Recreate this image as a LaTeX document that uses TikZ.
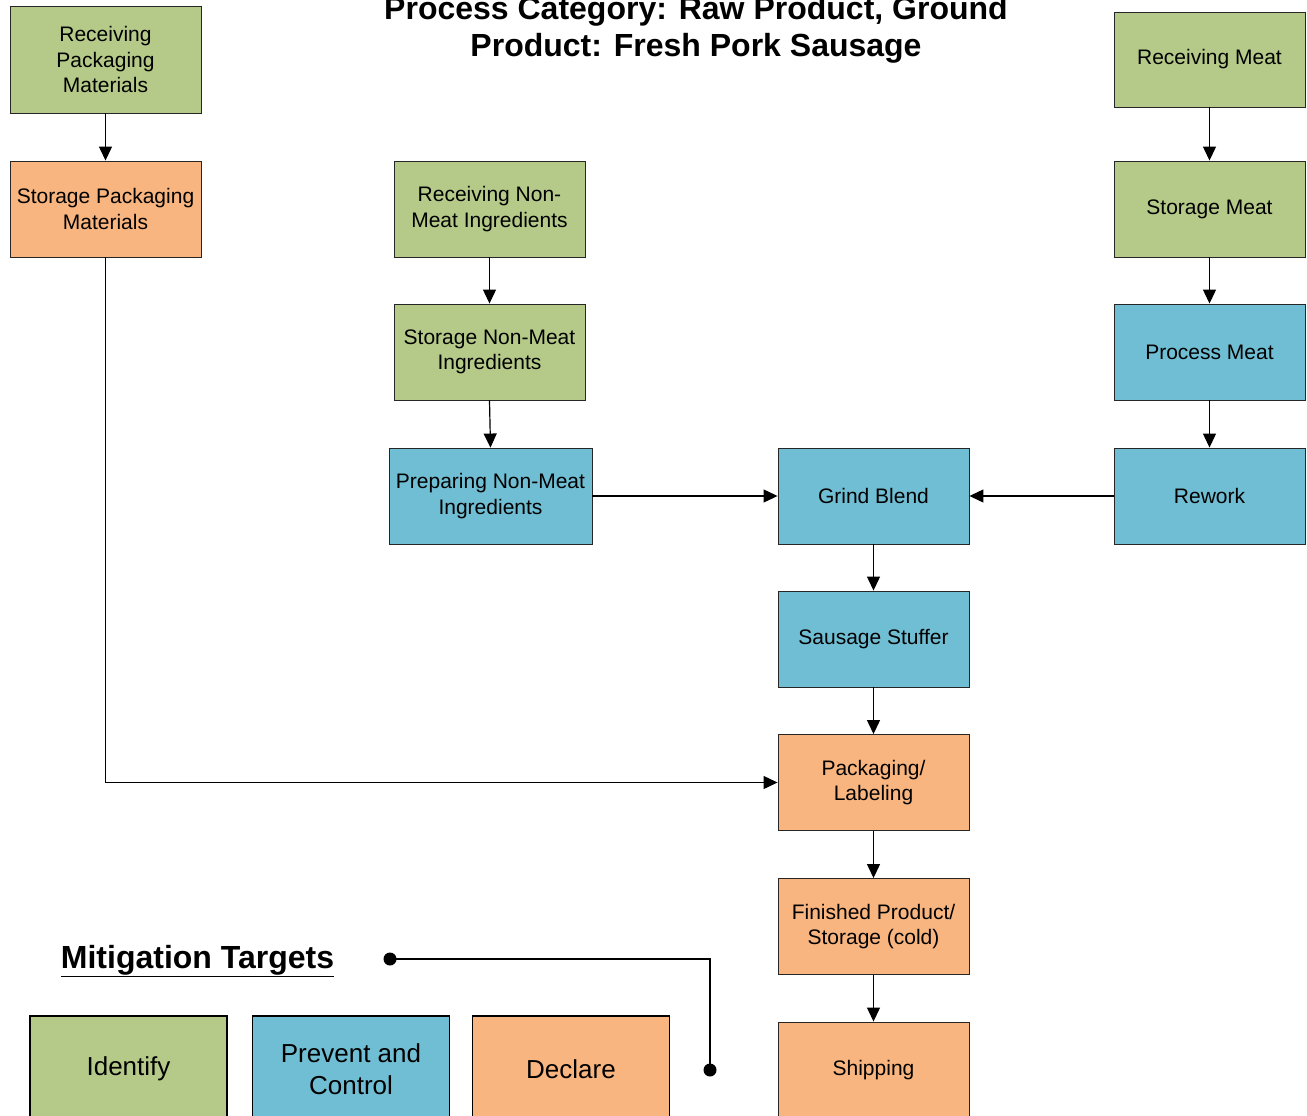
\documentclass[tikz,border=0pt]{standalone}
\usepackage{fontspec}
\setmainfont{Liberation Sans}
\usetikzlibrary{arrows.meta}

\definecolor{idgreen}{HTML}{B5CA88}
\definecolor{pcblue}{HTML}{70BED3}
\definecolor{decorange}{HTML}{F8B57F}

\begin{document}
\begin{tikzpicture}[x=1pt,y=-1pt,
  box/.style={draw=black!85,line width=0.9pt,minimum width=191pt,minimum height=96pt,
    inner sep=2pt,align=center,font=\fontsize{21}{25.5}\selectfont},
  legbox/.style={draw=black,line width=1.6pt,minimum width=197pt,minimum height=106pt,
    inner sep=2pt,align=center,font=\fontsize{26}{32}\selectfont},
  flow/.style={draw=black,line width=1.2pt,-{Triangle[length=14pt,width=13pt]}}]
\useasboundingbox (0,0) rectangle (1307,1116);

    % title
    \node[align=center,font=\fontsize{32}{37}\selectfont\bfseries] (title) at (696,29.5)
      {Process Category: Raw Product, Ground\\Product: Fresh Pork Sausage};

    % packaging column
    \node[box,fill=idgreen,minimum height=107pt] (rpm) at (105.5,59.5) {Receiving\\Packaging\\Materials};
    \node[box,fill=decorange] (spm) at (105.5,209) {Storage Packaging\\Materials};

    % non-meat column
    \node[box,fill=idgreen] (rnm) at (489.5,209) {Receiving Non-\\Meat Ingredients};
    \node[box,fill=idgreen] (snm) at (489.5,352) {Storage Non-Meat\\Ingredients};
    \node[box,fill=pcblue,minimum width=203pt] (pnm) at (490.5,496) {Preparing Non-Meat\\Ingredients};

    % meat column
    \node[box,fill=idgreen,minimum height=95pt] (rm) at (1209.5,59.5) {Receiving Meat};
    \node[box,fill=idgreen] (sm) at (1209.5,209) {Storage Meat};
    \node[box,fill=pcblue] (pm) at (1209.5,352) {Process Meat};
    \node[box,fill=pcblue] (rw) at (1209.5,496) {Rework};

    % main line
    \node[box,fill=pcblue] (gb) at (873.5,496) {Grind Blend};
    \node[box,fill=pcblue] (ss) at (873.5,639) {Sausage Stuffer};
    \node[box,fill=decorange] (pl) at (873.5,782.5) {Packaging/\\Labeling};
    \node[box,fill=decorange] (fps) at (873.5,926.5) {Finished Product/\\Storage (cold)};
    \node[box,fill=decorange] (ship) at (873.5,1070) {Shipping};

    \draw[flow] (rpm) -- (spm);
    \draw[flow] (spm.south) |- (pl.west);
    \draw[flow] (rnm) -- (snm);
    \draw[flow] (snm.south) -- (pnm.north);
    \draw[flow] (pnm) -- (gb);
    \draw[flow] (rm) -- (sm);
    \draw[flow] (sm) -- (pm);
    \draw[flow] (pm) -- (rw);
    \draw[flow] (rw) -- (gb);
    \draw[flow] (gb) -- (ss);
    \draw[flow] (ss) -- (pl);
    \draw[flow] (pl) -- (fps);
    \draw[flow] (fps) -- (ship);

    % legend
    \node[font=\fontsize{32}{37}\selectfont\bfseries] (mtitle) at (197.5,961) {\underline{Mitigation Targets}};
    \node[legbox,fill=idgreen] (ident) at (128.5,1069) {Identify};
    \node[legbox,fill=pcblue] (prev) at (351,1069) {Prevent and\\Control};
    \node[legbox,fill=decorange] (decl) at (571,1069) {Declare};

    \coordinate (mdot) at (390,959);
    \coordinate (ldot) at (710,1070);
    \draw[line width=1.5pt] (mdot) -| (ldot);
    \fill (mdot) circle (6.5);
    \fill (ldot) circle (6.5);

\end{tikzpicture}
\end{document}
